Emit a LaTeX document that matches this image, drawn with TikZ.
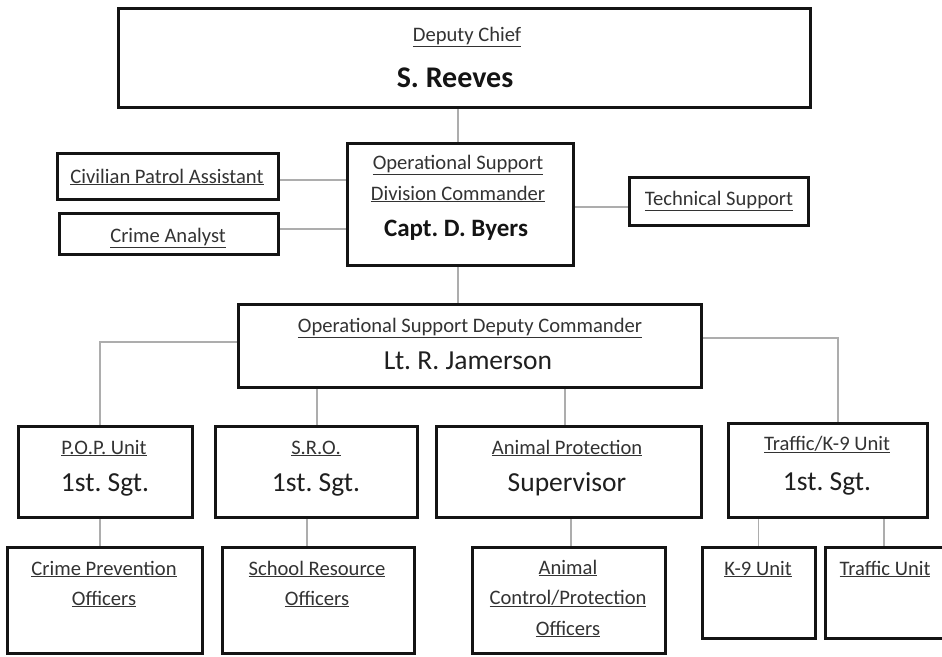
\documentclass[tikz,border=0pt]{standalone}
\usepackage{fontspec}
\setmainfont{Carlito}
\frenchspacing
\usetikzlibrary{backgrounds}
\begin{document}
\begin{tikzpicture}[x=1pt,y=-1pt,
  box/.style={draw=black!92, line width=3pt, fill=white, inner sep=0pt},
  conn/.style={draw=black!32, line width=1.5pt},
  small/.style={font=\fontsize{20.6}{24}\selectfont, text=black!80, anchor=base, inner sep=0pt},
  big/.style={font=\fontsize{27.5}{32}\selectfont, text=black!88, anchor=base, inner sep=0pt},
  bigb/.style={font=\fontsize{25}{30}\selectfont\bfseries, text=black!92, anchor=base, inner sep=0pt},
  huge/.style={font=\fontsize{30}{36}\selectfont\bfseries, text=black!92, anchor=base, inner sep=0pt},
]
\useasboundingbox (0,0) rectangle (942,656);
\clip (0,0) rectangle (942,656);

% boxes
\node[box, minimum width=692pt, minimum height=99pt] (top) at (464,57.5) {};
\node[box, minimum width=226pt, minimum height=122pt] (capt) at (460,204) {};
\node[box, minimum width=221pt, minimum height=46pt] (civ) at (167.5,176) {};
\node[box, minimum width=219pt, minimum height=41pt] (crime) at (168.5,233.5) {};
\node[box, minimum width=179pt, minimum height=48pt] (tech) at (718.5,201) {};
\node[box, minimum width=463pt, minimum height=83pt] (lt) at (469.5,345.5) {};
\node[box, minimum width=174pt, minimum height=91pt] (pop) at (105,471.5) {};
\node[box, minimum width=202pt, minimum height=91pt] (sro) at (316,471.5) {};
\node[box, minimum width=265pt, minimum height=91pt] (animal) at (568.5,471.5) {};
\node[box, minimum width=199pt, minimum height=94pt] (traffic) at (827.5,470) {};
\node[box, minimum width=195pt, minimum height=106pt] (cpo) at (104.5,600) {};
\node[box, minimum width=192pt, minimum height=106pt] (sro2) at (318,600) {};
\node[box, minimum width=193pt, minimum height=106pt] (aco) at (568.5,600) {};
\node[box, minimum width=113pt, minimum height=91pt] (k9) at (758.5,592.5) {};
\node[box, minimum width=135pt, minimum height=91pt] (tu) at (892.5,592.5) {};

% connectors
\begin{scope}[on background layer]
\fill[white] (0,0) rectangle (942,656);
\draw[conn] ([xshift=-2pt]capt.north) -- ([xshift=-2pt]capt.north |- top.south);
\draw[conn] ([yshift=-4pt]civ.east) -- ([yshift=-4pt]civ.east -| capt.west);
\draw[conn] ([yshift=4.5pt]crime.east) -- ([yshift=4.5pt]crime.east -| capt.west);
\draw[conn] ([yshift=-3pt]capt.east) -- ([yshift=-3pt]capt.east -| tech.west);
\draw[conn] ([xshift=-2pt]capt.south) -- ([xshift=-2pt]capt.south |- lt.north);
\draw[conn] ([yshift=3.5pt]lt.west) -| ([xshift=-5pt]pop.north);
\draw[conn] ([yshift=7.5pt]lt.east) -| ([xshift=10.5pt]traffic.north);
\draw[conn] ([xshift=1pt]sro.north) -- ([xshift=1pt]sro.north |- lt.south);
\draw[conn] ([xshift=-3.5pt]animal.north) -- ([xshift=-3.5pt]animal.north |- lt.south);
\draw[conn] ([xshift=-4.5pt]cpo.north) -- ([xshift=-4.5pt]cpo.north |- pop.south);
\draw[conn] ([xshift=-11pt]sro2.north) -- ([xshift=-11pt]sro2.north |- sro.south);
\draw[conn] ([xshift=2.5pt]aco.north) -- ([xshift=2.5pt]aco.north |- animal.south);
\draw[conn] (k9.north) -- (k9.north |- traffic.south);
\draw[conn] ([xshift=-8.5pt]tu.north) -- ([xshift=-8.5pt]tu.north |- traffic.south);
\end{scope}

% texts
\node[small] (t1) at (467,41) {\underline{Deputy Chief}};
\node[huge] (t2) at (455,87) {S. Reeves};
\node[small] (t3) at (458,169) {\underline{Operational Support}};
\node[small] (t4) at (458,200) {\underline{Division Commander}};
\node[bigb] (t5) at (456,236) {Capt. D. Byers};
\node[small] (t6) at (167,183) {\underline{Civilian Patrol Assistant}};
\node[small] (t7) at (168,242) {\underline{Crime Analyst}};
\node[small] (t8) at (719,205) {\underline{Technical Support}};
\node[small] (t9) at (470,332) {\underline{Operational Support Deputy Commander}};
\node[big] (t10) at (468,369) {Lt. R. Jamerson};
\node[small] (t11) at (104,454) {\underline{P.O.P. Unit}};
\node[big] (t12) at (105,491) {1st. Sgt.};
\node[small] (t13) at (316,454) {\underline{S.R.O.}};
\node[big] (t14) at (316,491) {1st. Sgt.};
\node[small] (t15) at (567,454) {\underline{Animal Protection}};
\node[big] (t16) at (567,491) {Supervisor};
\node[small] (t17) at (827,450) {\underline{Traffic/K-9 Unit}};
\node[big] (t18) at (827,490) {1st. Sgt.};
\node[small] (t19) at (104,575) {\underline{Crime Prevention}};
\node[small] (t20) at (104,605) {\underline{Officers}};
\node[small] (t21) at (317,575) {\underline{School Resource}};
\node[small] (t22) at (317,605) {\underline{Officers}};
\node[small] (t23) at (568,574) {\underline{Animal}};
\node[small] (t24) at (568,604) {\underline{Control/Protection}};
\node[small] (t25) at (568,635) {\underline{Officers}};
\node[small] (t26) at (758,575) {\underline{K-9 Unit}};
\node[small] (t27) at (885,575) {\underline{Traffic Unit}};
\end{tikzpicture}
\end{document}
